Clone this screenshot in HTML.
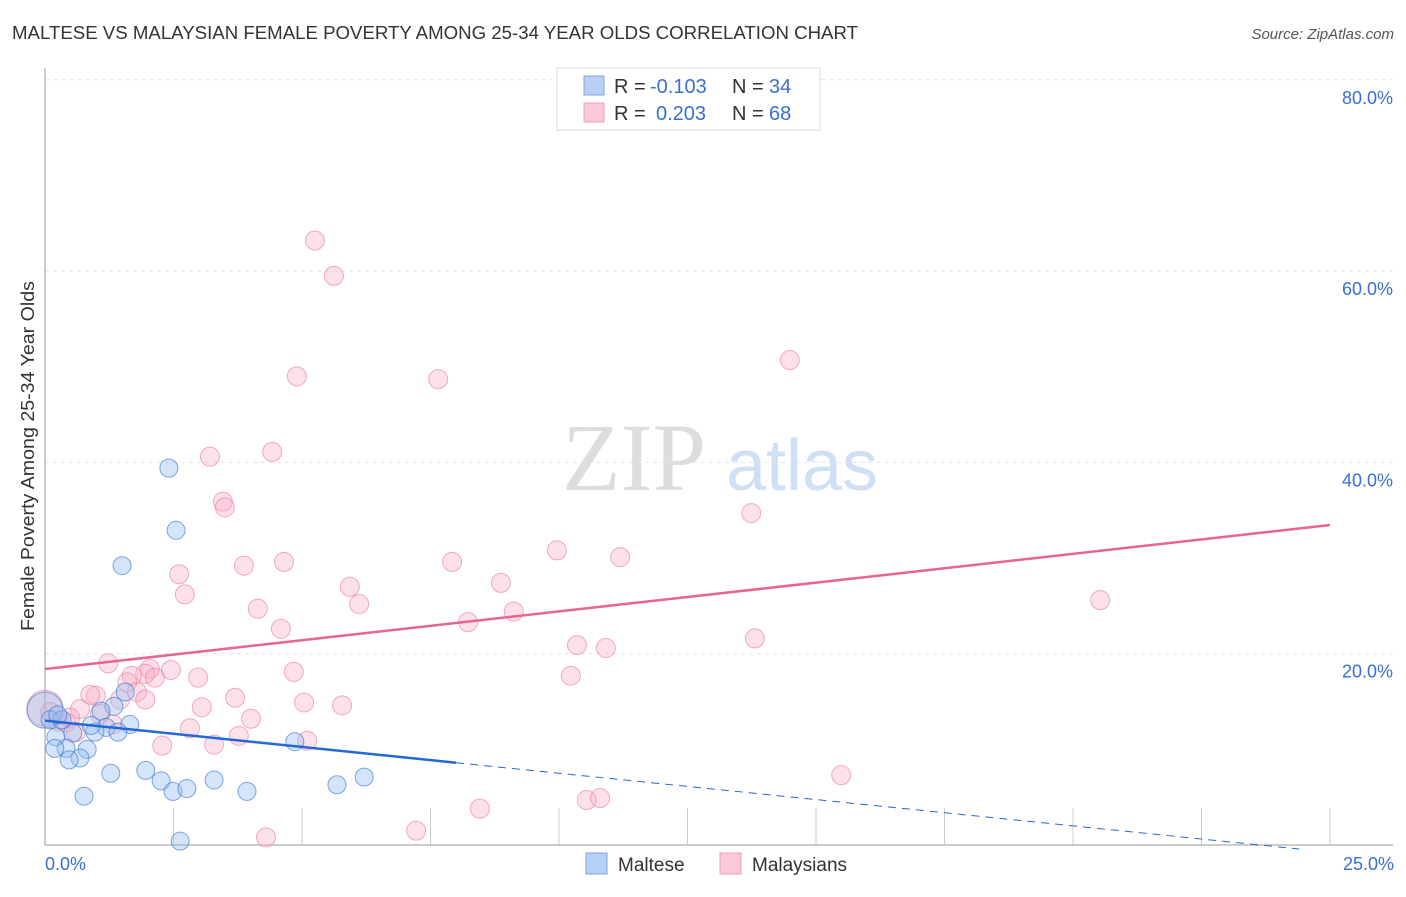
<!DOCTYPE html>
<html><head><meta charset="utf-8"><style>
body{margin:0;background:#fff;font-family:"Liberation Sans",sans-serif}
</style></head><body>
<svg width="1406" height="892" viewBox="0 0 1406 892" xmlns="http://www.w3.org/2000/svg" id="svg">
<text x="12" y="39" font-size="18" fill="#333" textLength="846" lengthAdjust="spacingAndGlyphs">MALTESE VS MALAYSIAN FEMALE POVERTY AMONG 25-34 YEAR OLDS CORRELATION CHART</text>
<text x="1394" y="39" font-size="15" fill="#555" font-style="italic" text-anchor="end">Source: ZipAtlas.com</text>
<g>
<text x="634" y="490" font-size="96" font-family="Liberation Serif,serif" fill="#ddd" text-anchor="middle">ZIP</text>
<text x="802" y="490" font-size="72" fill="#cfe0f5" text-anchor="middle">atlas</text>
</g>
<g id="grid"></g>
<g id="pts"></g>
<g id="lines"></g>
<text transform="translate(34,456) rotate(-90)" font-size="18" fill="#333" text-anchor="middle" textLength="350" lengthAdjust="spacingAndGlyphs">Female Poverty Among 25-34 Year Olds</text>
<text x="45" y="870" font-size="18" fill="#3b6fd0">0.0%</text>
<text x="1394" y="870" font-size="18" fill="#3b6fd0" text-anchor="end">25.0%</text>
<g font-size="20">
<rect x="557" y="68" width="263" height="62" fill="#fff" stroke="#ddd"/>
<rect x="584" y="76" width="20" height="19" fill="#b8d0f3" stroke="#7fa6e0"/>
<rect x="584" y="103" width="20" height="19" fill="#fbc9d8" stroke="#eda0b8"/>
<text x="614" y="93" fill="#333">R =</text>
<text x="650" y="93" fill="#3b6fd0">-0.103</text>
<text x="732" y="93" fill="#333">N =</text>
<text x="769" y="93" fill="#3b6fd0">34</text>
<text x="614" y="120" fill="#333">R =</text>
<text x="656" y="120" fill="#3b6fd0">0.203</text>
<text x="732" y="120" fill="#333">N =</text>
<text x="769" y="120" fill="#3b6fd0">68</text>
</g>
<g>
<rect x="586" y="853" width="21" height="21" fill="#b8d0f3" stroke="#7fa6e0"/>
<text x="618" y="871" font-size="19" fill="#333">Maltese</text>
<rect x="720" y="853" width="21" height="21" fill="#fbc9d8" stroke="#eda0b8"/>
<text x="752" y="871" font-size="19" fill="#333">Malaysians</text>
</g>
</svg>
<script>
const yTicks=[20,40,60,80];
const yTickLabels=["20.0%","40.0%","60.0%","80.0%"];
const xTicks=[2.5,5,7.5,10,12.5,15,17.5,20,22.5,25];
const malteseX=[2.41,2.55,1.50,1.56,1.34,1.09,1.65,1.19,0.97,1.42,0.54,0.21,0.82,0.41,0.19,0.68,0.47,1.28,1.96,2.26,2.49,2.76,3.29,3.93,4.86,5.68,6.21,0.76,2.63,0,0.1,0.33,0.9,0.25];
const malteseY=[39.4,32.9,29.2,16.0,14.5,14.0,12.6,12.3,11.8,11.8,11.7,11.3,10.0,10.1,10.1,9.1,8.9,7.5,7.8,6.7,5.6,5.9,6.8,5.6,10.8,6.3,7.1,5.1,0.4,14.1,13.1,13.1,12.5,13.6];
const malteseR=[9,9,9,9,9,9,9,9,9,9,9,9,9,9,9,9,9,9,9,9,9,9,9,9,9,9,9,9,9,18,9,9,9,9];
const malaysX=[5.25,5.62,4.90,7.65,14.49,3.21,4.42,3.46,3.50,13.74,9.96,11.19,7.92,4.65,3.87,2.61,8.87,5.93,2.72,20.53,6.11,4.14,9.12,8.23,4.59,13.81,10.35,10.91,1.23,4.84,2.45,2.04,1.95,1.69,2.14,2.98,10.23,1.60,1.79,0.99,0.88,3.70,5.04,3.05,5.78,1.46,0.68,4.01,1.32,2.82,0.41,0.25,3.77,5.10,3.29,2.28,15.49,10.54,10.80,8.46,7.22,4.30,0,0.1,0.49,1.07,1.95,0.6];
const malaysY=[63.2,59.5,49.0,48.7,50.7,40.6,41.1,35.9,35.3,34.7,30.8,30.1,29.6,29.6,29.2,28.3,27.4,27.0,26.2,25.6,25.2,24.7,24.4,23.3,22.6,21.6,20.9,20.6,19.0,18.1,18.3,18.4,17.9,17.7,17.5,17.5,17.7,17.0,16.0,15.6,15.7,15.4,14.9,14.4,14.6,15.2,14.2,13.2,12.6,12.2,12.8,12.9,11.4,10.9,10.5,10.4,7.3,4.7,4.9,3.8,1.5,0.8,14.3,13.9,13.3,13.7,15.2,11.8];
const blueTrend=[13.0,-0.55];
const pinkTrend=[18.4,0.602];
const NS="http://www.w3.org/2000/svg";
const X=v=>45+v/25*1285, Y=v=>845-v/20*191.3;
function mk(t,a,p){const e=document.createElementNS(NS,t);for(const k in a)e.setAttribute(k,a[k]);p.appendChild(e);return e;}
const grid=document.getElementById('grid');
yTicks.forEach((t,i)=>{
 const l=mk('line',{x1:45,x2:1393,y1:Y(t),y2:Y(t),stroke:'#e3e3e3','stroke-dasharray':'4,4'},grid);
 
 
 const tx=mk('text',{x:1393,y:Y(t)+24,'font-size':18,fill:'#3b6fd0','text-anchor':'end'},grid);
 tx.textContent=yTickLabels[i];
 
 
});
xTicks.forEach(t=>{
 const l=mk('line',{x1:X(t),x2:X(t),y1:808,y2:845,stroke:'#ccc'},grid);
 
 
});
const ax=mk('path',{d:'M45,68V845H1393',fill:'none',stroke:'#bbb','stroke-width':1.5},grid);


const pts=document.getElementById('pts');
malaysX.forEach((x,i)=>{
 const c=mk('circle',{cx:X(x),cy:Y(malaysY[i]),r:i==62?18:9.5,fill:'rgba(248,170,195,0.35)',stroke:'rgba(232,120,155,0.6)','stroke-width':1},pts);
 
 
});
malteseX.forEach((x,i)=>{
 const c=mk('circle',{cx:X(x),cy:Y(malteseY[i]),r:malteseR[i],fill:'rgba(150,190,240,0.4)',stroke:'rgba(60,120,210,0.65)','stroke-width':1},pts);
 
 
});
const L=document.getElementById('lines');
const by=x=>blueTrend[0]+blueTrend[1]*x, py=x=>pinkTrend[0]+pinkTrend[1]*x;
let e=mk('line',{x1:X(0),y1:Y(by(0)),x2:X(8),y2:Y(by(8)),stroke:'#2468d6','stroke-width':2.5},L);


e=mk('line',{x1:X(8),y1:Y(by(8)),x2:X(24.4),y2:Y(by(24.4)),stroke:'#2468d6','stroke-width':1,'stroke-dasharray':'8,6'},L);


e=mk('line',{x1:X(0),y1:Y(py(0)),x2:X(25),y2:Y(py(25)),stroke:'#e6668f','stroke-width':2.5},L);


</script>
</body></html>
